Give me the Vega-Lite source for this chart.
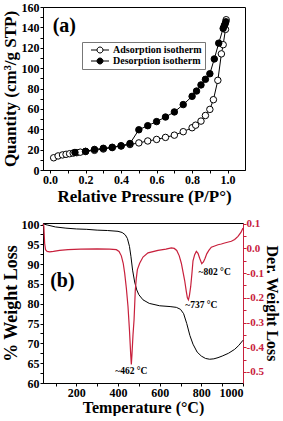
{
  "$schema": "https://vega.github.io/schema/vega-lite/v6.json",
  "padding": {"left": 0, "top": 0, "right": 0, "bottom": 0},
  "config": {
    "font": "Liberation Serif",
    "view": {"stroke": "black", "strokeWidth": 1},
    "axis": {
      "labelFont": "Liberation Serif", "labelFontSize": 12, "labelFontWeight": "bold", "labelColor": "black",
      "titleFont": "Liberation Serif", "titleFontWeight": "bold", "titleColor": "black",
      "domainColor": "black", "tickColor": "black", "grid": false, "tickSize": 3, "labelPadding": 1
    },
    "concat": {"spacing": 12}
  },
  "datasets": {
    "iso": [
      {"p": 0.02, "q": 12, "s": "Adsorption isotherm"},
      {"p": 0.045, "q": 13.8, "s": "Adsorption isotherm"},
      {"p": 0.07, "q": 14.8, "s": "Adsorption isotherm"},
      {"p": 0.09, "q": 15.4, "s": "Adsorption isotherm"},
      {"p": 0.11, "q": 16, "s": "Adsorption isotherm"},
      {"p": 0.13, "q": 16.6, "s": "Adsorption isotherm"},
      {"p": 0.15, "q": 17, "s": "Adsorption isotherm"},
      {"p": 0.17, "q": 17.5, "s": "Adsorption isotherm"},
      {"p": 0.2, "q": 18.2, "s": "Adsorption isotherm"},
      {"p": 0.25, "q": 19.3, "s": "Adsorption isotherm"},
      {"p": 0.3, "q": 20.6, "s": "Adsorption isotherm"},
      {"p": 0.35, "q": 22, "s": "Adsorption isotherm"},
      {"p": 0.4, "q": 23.5, "s": "Adsorption isotherm"},
      {"p": 0.45, "q": 25, "s": "Adsorption isotherm"},
      {"p": 0.5, "q": 26.6, "s": "Adsorption isotherm"},
      {"p": 0.55, "q": 28.5, "s": "Adsorption isotherm"},
      {"p": 0.6, "q": 30, "s": "Adsorption isotherm"},
      {"p": 0.65, "q": 32, "s": "Adsorption isotherm"},
      {"p": 0.7, "q": 34.2, "s": "Adsorption isotherm"},
      {"p": 0.75, "q": 37.6, "s": "Adsorption isotherm"},
      {"p": 0.8, "q": 41.5, "s": "Adsorption isotherm"},
      {"p": 0.82, "q": 44, "s": "Adsorption isotherm"},
      {"p": 0.85, "q": 48, "s": "Adsorption isotherm"},
      {"p": 0.875, "q": 53.5, "s": "Adsorption isotherm"},
      {"p": 0.9, "q": 59.5, "s": "Adsorption isotherm"},
      {"p": 0.92, "q": 69, "s": "Adsorption isotherm"},
      {"p": 0.945, "q": 88, "s": "Adsorption isotherm"},
      {"p": 0.965, "q": 114, "s": "Adsorption isotherm"},
      {"p": 0.975, "q": 123, "s": "Adsorption isotherm"},
      {"p": 0.988, "q": 138, "s": "Adsorption isotherm"},
      {"p": 0.992, "q": 147.5, "s": "Adsorption isotherm"},
      {"p": 0.14, "q": 17.2, "s": "Desorption isotherm"},
      {"p": 0.2, "q": 18.3, "s": "Desorption isotherm"},
      {"p": 0.25, "q": 20.2, "s": "Desorption isotherm"},
      {"p": 0.3, "q": 21.3, "s": "Desorption isotherm"},
      {"p": 0.35, "q": 22.3, "s": "Desorption isotherm"},
      {"p": 0.4, "q": 23.8, "s": "Desorption isotherm"},
      {"p": 0.45, "q": 26, "s": "Desorption isotherm"},
      {"p": 0.5, "q": 39.5, "s": "Desorption isotherm"},
      {"p": 0.55, "q": 43.5, "s": "Desorption isotherm"},
      {"p": 0.6, "q": 47.5, "s": "Desorption isotherm"},
      {"p": 0.65, "q": 52, "s": "Desorption isotherm"},
      {"p": 0.7, "q": 57, "s": "Desorption isotherm"},
      {"p": 0.75, "q": 64.2, "s": "Desorption isotherm"},
      {"p": 0.8, "q": 72.3, "s": "Desorption isotherm"},
      {"p": 0.825, "q": 77.5, "s": "Desorption isotherm"},
      {"p": 0.85, "q": 83.5, "s": "Desorption isotherm"},
      {"p": 0.875, "q": 89, "s": "Desorption isotherm"},
      {"p": 0.9, "q": 94.5, "s": "Desorption isotherm"},
      {"p": 0.925, "q": 109, "s": "Desorption isotherm"},
      {"p": 0.95, "q": 124.5, "s": "Desorption isotherm"},
      {"p": 0.975, "q": 139, "s": "Desorption isotherm"},
      {"p": 0.981, "q": 141.5, "s": "Desorption isotherm"},
      {"p": 0.986, "q": 143.5, "s": "Desorption isotherm"},
      {"p": 0.99, "q": 145.5, "s": "Desorption isotherm"}
    ],
    "tga": [
      {"t": 40, "w": 100.2}, {"t": 60, "w": 99.9}, {"t": 100, "w": 99.4}, {"t": 150, "w": 99.1},
      {"t": 200, "w": 98.9}, {"t": 250, "w": 98.8}, {"t": 300, "w": 98.6}, {"t": 350, "w": 98.5},
      {"t": 400, "w": 98.3}, {"t": 420, "w": 98.0}, {"t": 435, "w": 97.4}, {"t": 445, "w": 96.5},
      {"t": 455, "w": 94.5}, {"t": 462, "w": 92}, {"t": 470, "w": 88.5}, {"t": 480, "w": 85.5},
      {"t": 490, "w": 83.5}, {"t": 500, "w": 82.3}, {"t": 520, "w": 81.0}, {"t": 550, "w": 80.1},
      {"t": 600, "w": 79.5}, {"t": 650, "w": 79.3}, {"t": 680, "w": 79.1}, {"t": 700, "w": 78.6},
      {"t": 715, "w": 77.5}, {"t": 730, "w": 75.0}, {"t": 745, "w": 72.0}, {"t": 760, "w": 69.8},
      {"t": 780, "w": 67.8}, {"t": 800, "w": 66.8}, {"t": 820, "w": 66.2}, {"t": 840, "w": 66.0},
      {"t": 860, "w": 66.1}, {"t": 880, "w": 66.4}, {"t": 900, "w": 66.8}, {"t": 930, "w": 67.5},
      {"t": 960, "w": 68.5}, {"t": 980, "w": 69.5}, {"t": 1000, "w": 70.8}
    ],
    "dtg": [
      {"t": 40, "d": 0.1}, {"t": 44, "d": 0.09}, {"t": 48, "d": 0.02}, {"t": 52, "d": -0.005},
      {"t": 60, "d": -0.012}, {"t": 72, "d": -0.014}, {"t": 90, "d": -0.012}, {"t": 120, "d": -0.008},
      {"t": 160, "d": -0.005}, {"t": 220, "d": -0.003}, {"t": 300, "d": -0.002}, {"t": 360, "d": -0.003},
      {"t": 392, "d": -0.005}, {"t": 405, "d": -0.012}, {"t": 416, "d": -0.03}, {"t": 425, "d": -0.06},
      {"t": 432, "d": -0.1}, {"t": 440, "d": -0.16}, {"t": 448, "d": -0.235}, {"t": 455, "d": -0.33},
      {"t": 461, "d": -0.43}, {"t": 464, "d": -0.47}, {"t": 467, "d": -0.43}, {"t": 472, "d": -0.35},
      {"t": 477, "d": -0.29}, {"t": 483, "d": -0.17}, {"t": 488, "d": -0.12}, {"t": 493, "d": -0.086},
      {"t": 504, "d": -0.06}, {"t": 520, "d": -0.035}, {"t": 544, "d": -0.018}, {"t": 592, "d": -0.008},
      {"t": 630, "d": -0.003}, {"t": 656, "d": 0.002}, {"t": 670, "d": 0.0}, {"t": 682, "d": -0.008},
      {"t": 694, "d": -0.03}, {"t": 704, "d": -0.06}, {"t": 712, "d": -0.095}, {"t": 720, "d": -0.13},
      {"t": 728, "d": -0.175}, {"t": 733, "d": -0.2}, {"t": 738, "d": -0.208}, {"t": 743, "d": -0.19},
      {"t": 749, "d": -0.154}, {"t": 755, "d": -0.1}, {"t": 760, "d": -0.05}, {"t": 768, "d": -0.025},
      {"t": 776, "d": -0.012}, {"t": 784, "d": -0.02}, {"t": 792, "d": -0.04}, {"t": 802, "d": -0.062},
      {"t": 810, "d": -0.055}, {"t": 818, "d": -0.04}, {"t": 826, "d": -0.022}, {"t": 836, "d": -0.008},
      {"t": 848, "d": 0.005}, {"t": 864, "d": 0.01}, {"t": 880, "d": 0.015}, {"t": 896, "d": 0.018},
      {"t": 912, "d": 0.022}, {"t": 930, "d": 0.026}, {"t": 944, "d": 0.029}, {"t": 960, "d": 0.036},
      {"t": 976, "d": 0.049}, {"t": 990, "d": 0.065}, {"t": 1000, "d": 0.083}
    ],
    "notes": [
      {"t": 464, "d": -0.498, "label": "~462 °C"},
      {"t": 800, "d": -0.228, "label": "~737 °C"},
      {"t": 864, "d": -0.095, "label": "~802 °C"}
    ]
  },
  "vconcat": [
    {
      "width": 202,
      "height": 163,
      "encoding": {
        "x": {"field": "p", "type": "quantitative", "scale": {"domain": [-0.04, 1.098], "nice": false, "zero": false},
              "axis": {"title": "Relative Pressure (P/P°)", "titleFontSize": 17, "titlePadding": 3,
                       "values": [0, 0.1, 0.2, 0.3, 0.4, 0.5, 0.6, 0.7, 0.8, 0.9, 1.0],
                       "labelExpr": "round(datum.value*10)%2==0 ? format(datum.value,'.1f') : ''"}},
        "y": {"field": "q", "type": "quantitative", "scale": {"domain": [0, 160], "nice": false},
              "axis": {"title": "Quantity (cm³/g STP)", "titleFontSize": 17, "titlePadding": 2,
                       "values": [0, 10, 20, 30, 40, 50, 60, 70, 80, 90, 100, 110, 120, 130, 140, 150, 160],
                       "labelExpr": "datum.value%20==0 ? format(datum.value,'d') : ''"}}
      },
      "layer": [
        {
          "data": {"name": "iso"},
          "mark": {"type": "line", "color": "black", "strokeWidth": 1},
          "encoding": {"detail": {"field": "s"}}
        },
        {
          "data": {"name": "iso"},
          "mark": {"type": "point", "filled": true, "stroke": "black", "strokeWidth": 1, "size": 42, "opacity": 1},
          "encoding": {
            "fill": {"field": "s", "type": "nominal",
                     "scale": {"domain": ["Adsorption isotherm", "Desorption isotherm"], "range": ["white", "black"]},
                     "legend": {"orient": "none", "legendX": 39, "legendY": 35, "title": null, "direction": "vertical",
                                "symbolType": "M-3,0H-1M1,0H3M1,0A1,1,0,1,1,-1,0A1,1,0,1,1,1,0Z",
                                "symbolSize": 36, "symbolStrokeColor": "black", "symbolStrokeWidth": 1,
                                "labelFont": "Liberation Serif", "labelFontSize": 10, "labelFontWeight": "bold", "labelColor": "black",
                                "strokeColor": "#777", "fillColor": "white", "padding": 3, "rowPadding": 1,
                                "symbolOffset": 10, "labelOffset": 8}}
          }
        },
        {
          "data": {"values": [{"p": 0.08, "q": 141, "label": "(a)"}]},
          "mark": {"type": "text", "font": "Liberation Serif", "fontWeight": "bold", "fontSize": 20, "align": "center", "baseline": "middle", "color": "black"},
          "encoding": {"text": {"field": "label"}}
        }
      ]
    },
    {
      "width": 200,
      "height": 160,
      "layer": [
        {
          "encoding": {
            "x": {"field": "t", "type": "quantitative", "scale": {"domain": [40, 1000], "nice": false, "zero": false},
                  "axis": {"title": "Temperature (°C)", "titleFontSize": 16, "titlePadding": 1,
                           "values": [100, 200, 300, 400, 500, 600, 700, 800, 900, 1000],
                           "labelExpr": "datum.value%200==0 ? format(datum.value,'d') : ''"}},
            "y": {"field": "w", "type": "quantitative", "scale": {"domain": [60, 100.4], "nice": false, "zero": false},
                  "axis": {"title": "% Weight Loss", "titleFontSize": 18, "titlePadding": 1,
                           "values": [60, 62.5, 65, 67.5, 70, 72.5, 75, 77.5, 80, 82.5, 85, 87.5, 90, 92.5, 95, 97.5, 100],
                           "labelExpr": "datum.value%5==0 ? format(datum.value,'d') : ''"}}
          },
          "layer": [
            {"data": {"name": "tga"}, "mark": {"type": "line", "color": "black", "strokeWidth": 1}},
            {"data": {"values": [{"t": 133, "w": 85.7, "label": "(b)"}]},
             "mark": {"type": "text", "font": "Liberation Serif", "fontWeight": "bold", "fontSize": 20, "align": "center", "baseline": "middle", "color": "black"},
             "encoding": {"text": {"field": "label"}}}
          ]
        },
        {
          "encoding": {
            "x": {"field": "t", "type": "quantitative", "scale": {"domain": [40, 1000], "nice": false, "zero": false},
                  "axis": {"title": "Temperature (°C)", "titleFontSize": 16, "titlePadding": 1,
                           "values": [100, 200, 300, 400, 500, 600, 700, 800, 900, 1000],
                           "labelExpr": "datum.value%200==0 ? format(datum.value,'d') : ''"}},
            "y": {"field": "d", "type": "quantitative", "scale": {"domain": [-0.545, 0.103], "nice": false, "zero": false},
                  "axis": {"orient": "right", "title": "Der. Weight Loss", "titleFontSize": 16, "titlePadding": 0,
                           "labelFontSize": 11, "labelPadding": 0,
                           "domainColor": "#c8203c", "tickColor": "#c8203c", "labelColor": "#c8203c",
                           "values": [-0.5, -0.45, -0.4, -0.35, -0.3, -0.25, -0.2, -0.15, -0.1, -0.05, 0, 0.05, 0.1],
                           "labelExpr": "abs(round(datum.value*100))%10==0 ? replace(format(datum.value,'.1f'),'−','-') : ''"}}
          },
          "layer": [
            {"data": {"name": "dtg"}, "mark": {"type": "line", "color": "#c8203c", "strokeWidth": 1.2}},
            {"data": {"name": "notes"},
             "mark": {"type": "text", "font": "Liberation Serif", "fontWeight": "bold", "fontSize": 9.5, "align": "center", "baseline": "middle", "color": "black"},
             "encoding": {"text": {"field": "label"}}}
          ]
        }
      ],
      "resolve": {"scale": {"y": "independent"}}
    }
  ]
}
